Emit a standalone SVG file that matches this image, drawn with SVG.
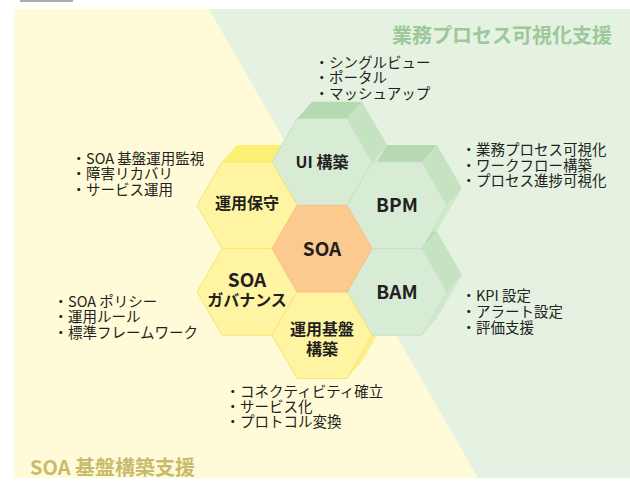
<svg xmlns="http://www.w3.org/2000/svg" width="630" height="481" viewBox="0 0 630 481">
<style>
text{font-family:"Noto Sans CJK JP","Noto Sans",sans-serif;fill:#231f20}
.li{font-size:14.5px}
.lb{font-size:16px;font-weight:bold;text-anchor:middle}
.lg{font-size:19px;font-weight:bold;text-anchor:middle}
.gF{fill:#d7ebd5;stroke:#c6e2c2;stroke-width:1}
.gT{fill:#b5dab1}
.gR{fill:#c5e3c1}
.gL{fill:#d0e9cc}
.yF{fill:#fff4a2;stroke:#f7e56e;stroke-width:1}
.yT{fill:#fdee74}
.yR{fill:#fdef7f}
.yL{fill:#fdf08a}
.oF{fill:#fcc98e;stroke:#f6bf82;stroke-width:0.8}
</style>
<defs>
<path id="hex" d="M-50,0 L-25,-43.3 L25,-43.3 L50,0 L25,43.3 L-25,43.3 Z"/>
<path id="fT" d="M-25,-43.3 L-10,-60.3 L40,-60.3 L25,-43.3 Z"/>
<path id="fR" d="M25,-43.3 L40,-60.3 L65,-17 L50,0 Z"/>
<path id="fL" d="M50,0 L65,-17 L40,26.3 L25,43.3 Z"/>
</defs>
<rect x="20" y="0" width="53" height="2" fill="#adadad"/>
<g id="background">
<rect x="14" y="9" width="616" height="469" fill="#fffbd8"/>
<polygon points="209,9 630,9 630,478 478,478" fill="#e5f2e2"/>
</g>
<g id="extrusions">
<g transform="translate(397,205.3)"><use href="#fT" class="gT"/><use href="#fR" class="gR"/><use href="#fL" class="gL"/></g>
<g transform="translate(397,291.9)"><use href="#fT" class="gT"/><use href="#fR" class="gR"/><use href="#fL" class="gL"/></g>
<g transform="translate(322,162)"><use href="#fT" class="gT"/><use href="#fR" class="gR"/><use href="#fL" class="gL"/></g>
<g transform="translate(247,205.3)"><use href="#fT" class="yT"/><use href="#fR" class="yR"/><use href="#fL" class="yL"/></g>
<g transform="translate(322,335.2)"><use href="#fT" class="yT"/><use href="#fR" class="yR"/><use href="#fL" class="yL"/></g>
</g>
<g id="connectors"/>
<g id="node-ui">
<use href="#hex" class="gF" transform="translate(322,162)"/>
<text class="lb" x="322" y="168">UI 構築</text>
</g>
<g id="node-hoshu">
<use href="#hex" class="yF" transform="translate(247,205.3)"/>
<text class="lb" x="247" y="209">運用保守</text>
</g>
<g id="node-bpm">
<use href="#hex" class="gF" transform="translate(397,205.3)"/>
<text class="lg" x="397" y="212">BPM</text>
</g>
<g id="node-governance">
<use href="#hex" class="yF" transform="translate(247,291.9)"/>
<text class="lg" x="247" y="287">SOA</text>
<text class="lb" x="247" y="306">ガバナンス</text>
</g>
<g id="node-bam">
<use href="#hex" class="gF" transform="translate(397,291.9)"/>
<text class="lg" x="397" y="299">BAM</text>
</g>
<g id="node-kiban">
<use href="#hex" class="yF" transform="translate(322,335.2)"/>
<text class="lb" x="322" y="334.5">運用基盤</text>
<text class="lb" x="322" y="355">構築</text>
</g>
<g id="node-soa">
<use href="#hex" class="oF" transform="translate(322,248.6)"/>
<text class="lg" x="322" y="256">SOA</text>
</g>
<g id="titles">
<text x="612" y="42.5" style="font-size:20px;font-weight:bold;fill:#9cc89a;text-anchor:end">業務プロセス可視化支援</text>
<text x="30" y="474.5" style="font-size:20px;font-weight:bold;fill:#c8bb6e">SOA 基盤構築支援</text>
</g>
<g id="list-ui">
<text class="li"><tspan x="314.5" y="67.5">・シングルビュー</tspan><tspan x="314.5" y="83">・ポータル</tspan><tspan x="314.5" y="98.5">・マッシュアップ</tspan></text>
</g>
<g id="list-hoshu">
<text class="li"><tspan x="71.5" y="163.5">・SOA 基盤運用監視</tspan><tspan x="71.5" y="179">・障害リカバリ</tspan><tspan x="71.5" y="194.5">・サービス運用</tspan></text>
</g>
<g id="list-governance">
<text class="li"><tspan x="53.5" y="306.5">・SOA ポリシー</tspan><tspan x="53.5" y="321.5">・運用ルール</tspan><tspan x="53.5" y="337.5">・標準フレームワーク</tspan></text>
</g>
<g id="list-bpm">
<text class="li"><tspan x="461.5" y="155">・業務プロセス可視化</tspan><tspan x="461.5" y="170.5">・ワークフロー構築</tspan><tspan x="461.5" y="186">・プロセス進捗可視化</tspan></text>
</g>
<g id="list-bam">
<text class="li"><tspan x="461.5" y="300.5">・KPI 設定</tspan><tspan x="461.5" y="316.5">・アラート設定</tspan><tspan x="461.5" y="332.5">・評価支援</tspan></text>
</g>
<g id="list-kiban">
<text class="li"><tspan x="225.5" y="397">・コネクティビティ確立</tspan><tspan x="225.5" y="411.5">・サービス化</tspan><tspan x="225.5" y="426.5">・プロトコル変換</tspan></text>
</g>
</svg>
